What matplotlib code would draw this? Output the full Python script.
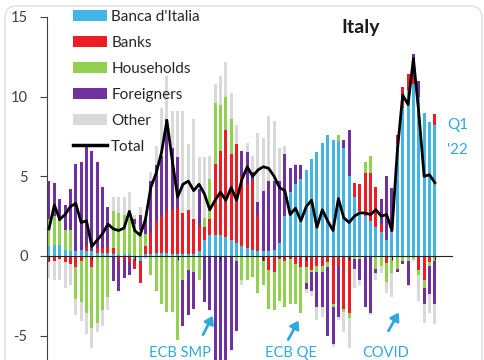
import numpy as np
import matplotlib
matplotlib.use("Agg")
import matplotlib.pyplot as plt
from matplotlib.patches import Patch, FancyBboxPatch
from matplotlib.lines import Line2D

plt.rcParams['font.family'] = ['Lato', 'DejaVu Sans']
plt.rcParams['axes.unicode_minus'] = False

# Quarterly net purchases of Italian government debt, % of GDP (4q sum), 2004Q1 - 2022Q1
quarters = [f"{y}Q{q}" for y in range(2004, 2023) for q in range(1, 5)][:73]

banca = [0.6, 0.7, 0.7, 0.4, 0.3, 0.3, 0.4, 0.3, 0.3, 0.2, 0.2, 0.2,
         0.1, 0.1, 0.1, 0.1, -0.2, -0.3, 0.1, 0.1, 0.2, 0.2, 0.2, 0.1,
         0.1, 0.1, 0.1, 0.1, 0.3, 1.0, 1.3, 1.3, 1.3, 1.2, 1.0, 0.8,
         0.6, 0.5, 0.4, 0.3, 0.3, 0.3, 0.4, 0.8, 2.5, 4.0, 4.5, 4.8,
         5.4, 6.1, 6.5, 7.1, 7.6, 7.3, 7.2, 6.8, 5.0, 3.7, 2.8, 2.5,
         2.2, 1.8, 1.5, 1.0, 1.5, 7.0, 9.3, 10.4, 10.8, 10.0, 9.0, 8.4, 8.2]
banks = [-0.4, -0.3, -0.2, -0.4, -0.5, -0.7, -0.3, 0.3, -0.7, 0.3, 0.3, 0.4,
         0.4, -0.3, -0.2, -0.4, -0.6, -1.4, 0.5, 1.4, 2.0, 2.3, 2.6, 2.8,
         2.9, 2.6, 2.8, 2.2, 1.6, 0.8, 1.0, 4.5, 5.3, 6.7, 5.4, 6.2,
         4.4, 4.0, 4.35, 2.3, -0.3, -0.9, -1.0, -0.2, -0.3, -0.2, -0.5, -0.7,
         -0.7, -0.9, -0.6, -0.6, -0.4, -3.0, -0.6, -3.3, -3.6, 0.9, 1.7, 2.7,
         3.0, 2.5, 0.5, -0.45, 0.3, 0.6, 1.3, 1.0, 0.5, -0.9, -1.5, -0.4, 0.7]
households = [1.7, 1.8, 1.5, 1.2, 1.3, -2.0, -2.6, -3.6, -3.8, -4.2, -3.4, -2.6,
              2.3, 2.6, 2.5, 2.2, 2.0, 1.6, 0.8, -1.2, -2.2, -3.0, -3.5, -3.5,
              -5.3, -1.5, -0.9, -1.0, -1.5, 0.6, 2.5, 3.8, 2.9, 2.1, 2.2, -0.3,
              -1.5, -1.5, -1.3, -2.3, -1.5, -2.4, -2.4, -2.6, -2.9, -2.8, -2.5, -2.9,
              -1.0, -0.1, -0.4, -0.4, -0.3, -0.2, 0.4, -0.2, -0.3, -0.2, -0.2, 0.7,
              1.1, -0.8, -0.6, -1.2, -1.1, -0.8, -0.3, -0.3, -0.2, -0.3, -0.5, -0.2, -0.3]
foreigners = [2.4, 2.1, 1.4, 1.6, 2.6, 5.5, 5.5, 6.3, 6.3, 5.4, 3.8, 2.5,
              -1.6, -1.9, -1.2, -0.8, 0.3, 1.0, 1.0, 3.2, 3.5, 3.8, 5.8, 3.9,
              3.2, -2.9, -2.8, -2.3, 2.3, -2.9, -3.4, -7.0, -7.5, -8.5, -5.9, -4.4,
              1.6, 2.0, 0.5, 0.8, 3.8, 4.4, 4.3, 3.9, 3.9, 1.5, 1.2, 0.9,
              -0.4, -1.2, -2.2, -2.2, -4.3, -2.3, -3.2, 0.45, 2.9, -0.6, -1.3, -3.2,
              -3.6, -0.3, 1.6, 4.0, 2.45, -0.2, -0.2, -1.5, 1.4, 1.0, -1.0, -1.8, -2.7]
other = [-1.0, -1.2, -1.3, -1.6, -1.3, -1.0, -1.2, -1.3, -1.3, -0.6, -1.0, -0.8,
         0.9, 1.0, 1.1, 1.7, 0.3, 0.5, -0.2, 0.6, 1.2, 3.0, 2.7, 2.3,
         2.9, 6.4, 4.1, 6.3, 2.0, 3.8, 1.5, 1.2, 1.8, 2.2, 1.6, 1.2,
         -0.3, 0.6, 1.0, 4.3, 3.3, 4.1, 3.8, 2.1, 0.5, 0.0, 0.1, 0.0,
         -0.2, -0.3, -0.8, -0.6, 0.0, -0.2, -0.2, -1.3, -1.9, -1.2, -0.3, 0.0,
         -0.1, -0.4, -0.5, -0.7, -1.5, 0.0, 0.0, -0.1, -0.1, -1.6, -1.2, -1.2, -1.3]
total = [1.7, 3.2, 2.3, 2.6, 3.1, 3.3, 2.1, 2.2, 0.6, 1.0, 1.4, 2.0,
         1.7, 1.6, 1.75, 2.8, 1.6, 1.3, 2.3, 4.3, 5.2, 6.5, 8.5, 6.0,
         3.7, 4.5, 4.7, 4.1, 4.5, 3.9, 2.9, 3.5, 4.0, 3.5, 4.3, 3.5,
         4.8, 5.6, 5.0, 5.4, 5.6, 5.5, 5.0, 4.3, 4.1, 2.6, 3.0, 2.2,
         3.1, 3.5, 1.8, 2.9, 2.2, 1.6, 3.6, 2.4, 2.1, 2.5, 2.7, 2.7,
         2.6, 2.9, 2.5, 2.6, 1.6, 6.6, 10.1, 9.5, 12.4, 9.0, 5.0, 5.1, 4.6]

sectors = ["Banca d'Italia", "Banks", "Households", "Foreigners", "Other"]
colors = ["#41B6E6", "#EE1C25", "#92D050", "#7030A0", "#D9D9D9"]
note_blue = "#2FA9DD"

fig = plt.figure(figsize=(4.85, 3.6), dpi=100)
ax = fig.add_axes([47/485, 0, 405/485, 343/360])

x = np.arange(len(quarters))
pos = np.zeros(len(x))
neg = np.zeros(len(x))
for vals, c in zip([banca, banks, households, foreigners, other], colors):
    v = np.array(vals)
    bottom = np.where(v >= 0, pos, neg)
    ax.bar(x, v, 0.56, bottom=bottom, color=c, linewidth=0)
    pos += np.clip(v, 0, None)
    neg += np.clip(v, None, 0)

ax.plot(x, total, color='black', lw=2.0, zorder=5)

ax.set_xlim(-0.37, 75.2)
ax.set_ylim(-6.53, 15)

# axes styling
ax.spines['top'].set_visible(False)
ax.spines['right'].set_visible(False)
ax.spines['bottom'].set_position(('data', 0))
ax.spines['bottom'].set_color('#222222')
ax.spines['left'].set_color('#404040')
ax.set_yticks([-5, 0, 5, 10, 15])
ax.set_xticks(np.arange(0, 73, 8))
ax.set_xticklabels([])
ax.tick_params(axis='y', direction='out', length=5, pad=9, labelsize=10.5,
               colors='#404040')
ax.tick_params(axis='x', direction='out', length=3, color='#222222')

# annotations
ax.text(24.4, -5.65, "ECB SMP", color=note_blue, fontsize=10.5, ha='center', va='top')
ax.text(45.1, -5.65, "ECB QE", color=note_blue, fontsize=10.5, ha='center', va='top')
ax.text(62.9, -5.65, "COVID", color=note_blue, fontsize=10.5, ha='center', va='top')
arrow = dict(arrowstyle='-|>,head_width=0.3,head_length=0.45', color=note_blue, lw=2)
ax.annotate('', xy=(30.8, -3.6), xytext=(28.5, -5.1), arrowprops=arrow, annotation_clip=False)
ax.annotate('', xy=(46.8, -3.9), xytext=(44.4, -5.4), arrowprops=arrow, annotation_clip=False)
ax.annotate('', xy=(65.5, -3.4), xytext=(63.1, -4.85), arrowprops=arrow, annotation_clip=False)
ax.text(74.3, 8.2, "Q1", color=note_blue, fontsize=11, va='center')
ax.text(74.3, 6.65, "'22", color=note_blue, fontsize=11, va='center')

# title
fig.text(361/485, 1 - 28/360, "Italy", ha='center', va='center', fontsize=14,
         fontweight='bold', color='#1a1a1a')

# legend
handles = [Patch(facecolor=c, edgecolor='none') for c in colors]
handles.append(Line2D([], [], color='black', lw=2.5))
fig.legend(handles, sectors + ["Total"], loc='upper left',
           bbox_to_anchor=(73/485, 1 - 10/360), frameon=False, fontsize=11,
           handlelength=2.2, handleheight=0.75, handletextpad=0.3,
           labelspacing=0.78, borderpad=0, borderaxespad=0, labelcolor='#262626')

# card border of the screenshot
fig.add_artist(FancyBboxPatch((0.05, -0.5), 4.77, 4.04,
                              boxstyle="round,pad=0,rounding_size=0.12",
                              transform=fig.dpi_scale_trans, fill=False,
                              edgecolor='#dddddd', lw=1))

plt.savefig("out.png", dpi=100)
